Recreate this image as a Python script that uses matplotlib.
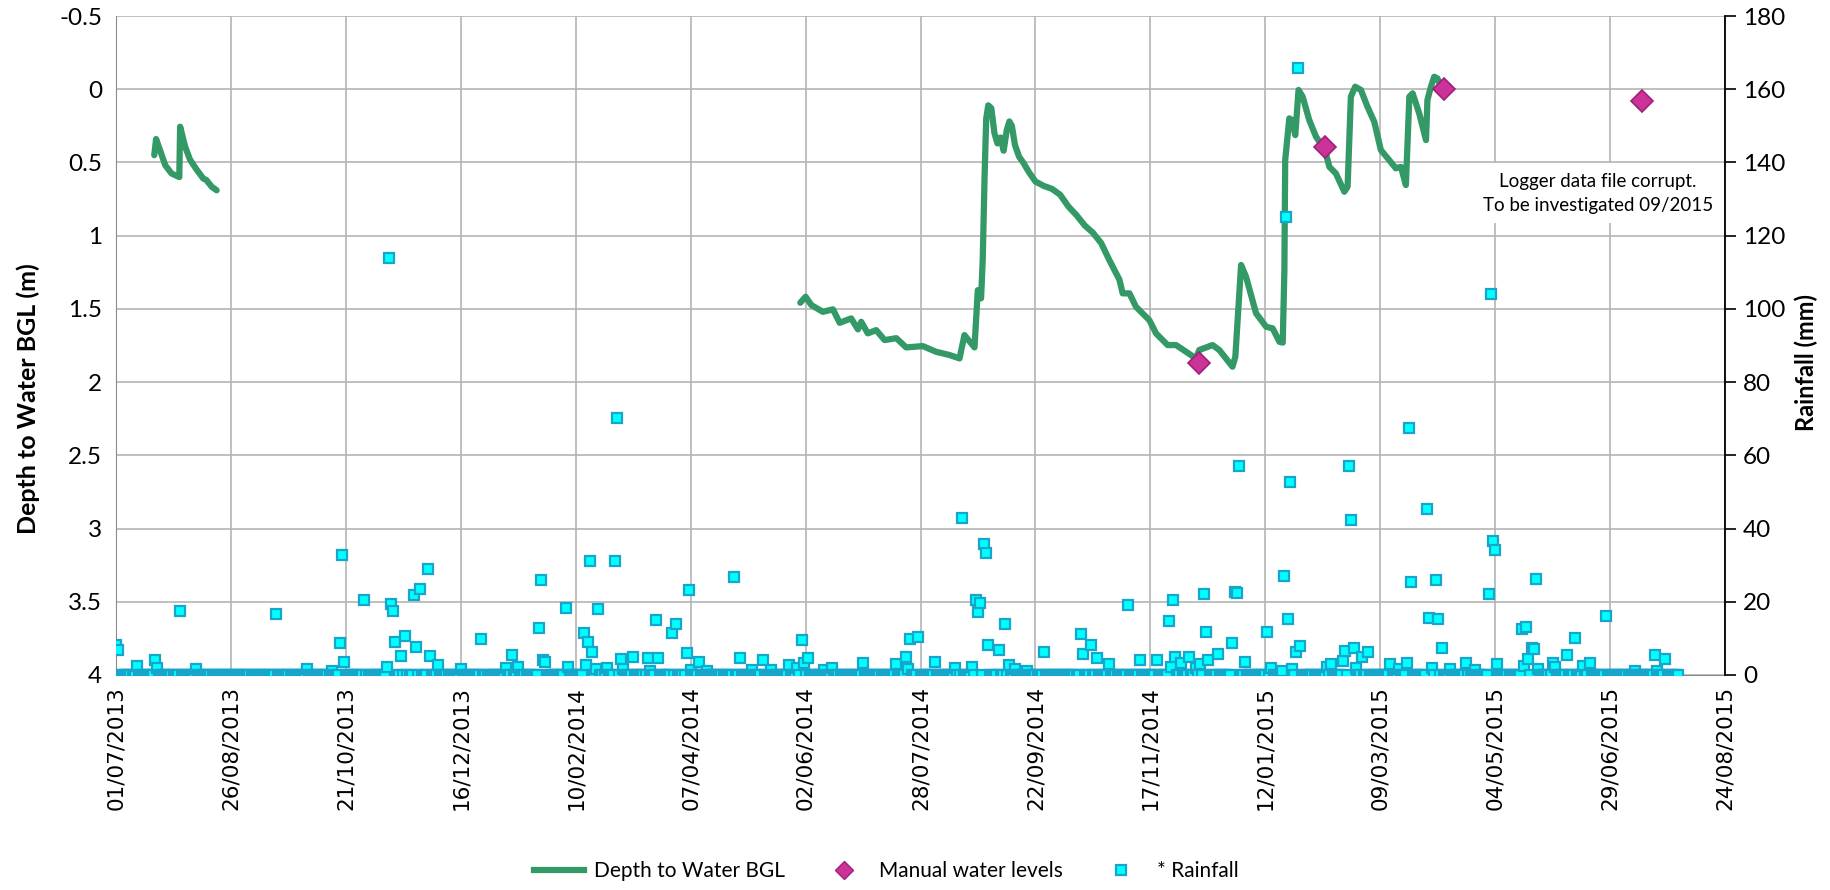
import matplotlib
matplotlib.use('Agg')
import matplotlib.pyplot as plt
from matplotlib.lines import Line2D
from matplotlib.ticker import FuncFormatter
import numpy as np
import pandas as pd

plt.rcParams['font.family'] = ['Lato', 'DejaVu Sans']

START = pd.Timestamp('2013-07-01')

# Logger depth to water (m below ground), days since START
logger1_day = [18.6, 19.5, 21.0, 24.0, 27.0, 30.8, 31.2, 33.6, 36.0, 39.3, 42.5, 44.0, 46.6, 49.0]
logger1_depth = [0.45, 0.34, 0.40, 0.52, 0.575, 0.60, 0.256, 0.39, 0.48, 0.55, 0.61, 0.62, 0.666, 0.69]

logger2_day = [333.4, 336.0, 338.8, 344.4, 349.3, 352.6, 358.2, 361.5, 363.1, 366.3, 370.4,
               374.5, 380.2, 385.0, 393.1, 399.6, 406.1, 411.0, 413.4, 418.3, 419.9, 421.5,
               422.3, 423.2, 424.0, 425.0, 426.5, 428.0, 429.5, 431.0, 432.5, 434.0, 435.3,
               436.5, 438.0, 440.0, 442.0, 445.0, 448.0, 452.0, 456.0, 460.0, 464.0, 468.0,
               472.0, 476.0, 480.0, 484.0, 488.9, 490.5, 493.8, 497.0, 503.5, 506.8, 512.4,
               516.5, 521.4, 526.2, 527.8, 534.3, 537.6, 544.0, 545.4, 548.2, 550.6, 555.5,
               560.4, 563.6, 566.9, 568.5, 569.3, 569.7, 571.7, 573.0, 574.6, 576.2, 578.2,
               581.4, 584.7, 589.1, 591.2, 594.4, 598.5, 600.1, 601.7, 603.8, 606.6, 609.8,
               613.1, 616.3, 620.4, 623.6, 626.1, 628.5, 630.2, 631.8, 635.0, 638.3, 639.0,
               640.7, 642.3, 643.9, 645.6]
logger2_depth = [1.458, 1.417, 1.474, 1.52, 1.503, 1.595, 1.565, 1.64, 1.588, 1.667, 1.645,
                 1.713, 1.70, 1.763, 1.754, 1.793, 1.815, 1.838, 1.679, 1.763, 1.372, 1.428,
                 1.167, 0.60, 0.20, 0.11, 0.13, 0.30, 0.37, 0.33, 0.42, 0.28, 0.22,
                 0.25, 0.38, 0.46, 0.50, 0.57, 0.63, 0.66, 0.68, 0.72, 0.80, 0.86,
                 0.93, 0.98, 1.05, 1.167, 1.30, 1.394, 1.394, 1.486, 1.577, 1.668, 1.747,
                 1.747, 1.793, 1.838, 1.781, 1.747, 1.781, 1.895, 1.827, 1.20, 1.28, 1.53,
                 1.622, 1.633, 1.725, 1.73, 1.235, 0.484, 0.199, 0.21, 0.313, 0.005, 0.051,
                 0.21, 0.324, 0.415, 0.53, 0.575, 0.70, 0.666, 0.051, -0.017, 0.005, 0.12,
                 0.222, 0.415, 0.484, 0.54, 0.53, 0.654, 0.051, 0.028, 0.165, 0.347, 0.074,
                 -0.017, -0.085, -0.074, -0.017]

# Manual dips
manual_day = [527.9, 589.1, 647.0, 743.4]
manual_depth = [1.867, 0.397, 0.0, 0.078]

# Daily rainfall (mm); days not listed recorded 0 mm
rain_day = [0, 1, 10, 19, 20, 31, 39, 78, 93, 105, 109, 110, 111, 121, 132, 133, 134, 135,
            136, 139, 141, 145, 146, 148, 152, 153, 157, 168, 178, 190, 193, 196, 206, 207,
            208, 209, 219, 220, 228, 229, 230, 231, 232, 234, 235, 239, 243, 244, 246, 247,
            252, 259, 260, 263, 264, 271, 273, 278, 279, 280, 284, 288, 301, 304, 310, 315,
            319, 328, 332, 334, 335, 337, 345, 349, 364, 380, 385, 386, 387, 391, 399, 409,
            412, 417, 419, 420, 421, 423, 424, 425, 430, 433, 435, 438, 444, 452, 470, 471,
            475, 478, 484, 493, 499, 507, 513, 514, 515, 516, 519, 523, 526, 528, 530, 531,
            532, 537, 544, 545, 546, 547, 550, 561, 563, 568, 569, 570, 571, 572, 573, 575,
            576, 577, 590, 592, 598, 599, 601, 602, 603, 604, 607, 610, 621, 625, 629, 630,
            631, 639, 640, 641, 643, 644, 646, 650, 658, 662, 669, 670, 671, 672, 673, 685,
            686, 687, 688, 690, 691, 692, 693, 700, 701, 707, 711, 715, 718, 726, 740, 750,
            751, 755]
rain_mm = [8.2, 6.8, 2.5, 4.1, 1.8, 17.4, 1.5, 16.6, 1.5, 1.2, 8.8, 32.9, 3.6, 20.6, 2.1, 114.0,
           19.5, 17.4, 9.0, 5.2, 10.6, 21.8, 7.7, 23.6, 29.0, 5.2, 2.8, 1.5, 9.9, 1.8, 5.4, 2.1,
           12.7, 25.9, 4.1, 3.5, 18.3, 2.3, 11.4, 2.8, 9.1, 31.1, 6.4, 1.5, 18.1, 1.9, 31.1,
           70.3, 4.4, 1.5, 4.9, 4.6, 1.2, 15.0, 4.7, 11.4, 13.8, 6.1, 23.1, 1.4, 3.6, 1.1, 26.8,
           4.6, 1.4, 4.0, 1.4, 2.6, 2.0, 9.6, 3.4, 4.6, 1.4, 1.9, 3.2, 2.9, 5.0, 1.5, 9.8, 10.5,
           3.6, 1.9, 43.0, 2.2, 20.4, 17.3, 19.6, 35.9, 33.4, 8.2, 6.8, 13.8, 2.7, 1.7, 1.2, 6.3,
           11.1, 5.6, 8.2, 4.6, 2.9, 19.2, 4.0, 4.0, 14.7, 2.1, 20.6, 5.0, 3.2, 5.0, 1.9, 3.0,
           22.0, 11.8, 4.1, 5.6, 8.6, 22.7, 22.3, 57.1, 3.5, 11.8, 1.8, 1.1, 27.0, 125.2, 15.4,
           52.7, 1.5, 6.4, 165.8, 8.0, 2.1, 2.9, 3.9, 6.5, 57.0, 42.2, 7.4, 2.0, 5.0, 6.2, 2.9,
           1.5, 3.3, 67.5, 25.3, 45.3, 15.6, 1.9, 25.9, 15.2, 7.4, 1.5, 3.2, 1.4, 22.0, 104.2,
           36.6, 34.2, 2.9, 12.6, 2.5, 13.0, 4.5, 7.3, 7.1, 26.1, 1.7, 3.2, 2.3, 5.4, 10.2, 2.5,
           3.4, 16.2, 1.1, 5.4, 1.2, 4.4]
rain_last_day = 761

tick_labels = ['01/07/2013', '26/08/2013', '21/10/2013', '16/12/2013', '10/02/2014',
               '07/04/2014', '02/06/2014', '28/07/2014', '22/09/2014', '17/11/2014',
               '12/01/2015', '09/03/2015', '04/05/2015', '29/06/2015', '24/08/2015']


def to_dates(days):
    return START + pd.to_timedelta(np.asarray(days, dtype=float), unit='D')


GREEN = '#339966'
MAGENTA = '#cc3399'
CYAN = '#00ffff'
CYAN_EDGE = '#18a5cc'
GRID = '#b4b4b4'

fig = plt.figure(figsize=(18.31, 8.90), dpi=100)
ax = fig.add_axes([0.0634, 0.2416, 0.8787, 0.7404])

# logger line, two separate deployments
ax.plot(to_dates(logger1_day), logger1_depth, color=GREEN, lw=4.5,
        solid_joinstyle='round', solid_capstyle='round', zorder=3)
ax.plot(to_dates(logger2_day), logger2_depth, color=GREEN, lw=4.5,
        solid_joinstyle='round', solid_capstyle='round', zorder=3)
ax.plot(to_dates(manual_day), manual_depth, ls='none', marker='D', ms=11,
        mfc=MAGENTA, mec='#a0207a', mew=1.2, zorder=4)

ax.set_ylim(4, -0.5)
ax.set_yticks(np.arange(-0.5, 4.01, 0.5))
ax.yaxis.set_major_formatter(FuncFormatter(lambda v, p: f'{v:g}'))
ax.set_ylabel('Depth to Water BGL (m)', fontsize=18, fontweight='bold')
ax.yaxis.set_label_coords(-0.047, 0.42)

tick_dates = pd.to_datetime(tick_labels, format='%d/%m/%Y')
ax.set_xlim(tick_dates[0], tick_dates[-1])
ax.set_xticks(tick_dates)
ax.set_xticklabels(tick_labels, rotation=90, fontsize=15.5, family='DejaVu Sans')
ax.tick_params(axis='both', length=0)
ax.tick_params(axis='x', pad=8)
ax.tick_params(axis='y', labelsize=17.5, pad=10)
ax.grid(True, color=GRID, lw=1.2)
ax.set_axisbelow(True)
for side in ['top', 'right']:
    ax.spines[side].set_visible(False)
ax.spines['left'].set_color('#8c8c8c')
ax.spines['bottom'].set_color('#8c8c8c')

# rainfall on the secondary axis
ax2 = ax.twinx()
all_days = np.arange(0, rain_last_day + 1)
all_rain = np.zeros(len(all_days))
all_rain[np.array(rain_day)] = rain_mm
ax2.plot(to_dates(all_days), all_rain, ls='none', marker='s', ms=7.5,
         mfc=CYAN, mec=CYAN_EDGE, mew=1.6, zorder=5)
ax2.set_ylim(0, 180)
ax2.set_yticks(np.arange(0, 181, 20))
ax2.tick_params(axis='y', labelsize=17.5, direction='out', length=8, width=1.2, pad=5)
ax2.set_ylabel('Rainfall (mm)', fontsize=17, fontweight='bold')
ax2.yaxis.set_label_coords(1.043, 0.474)
for side in ['top', 'left', 'bottom']:
    ax2.spines[side].set_visible(False)
ax2.spines['right'].set_color('black')
ax2.spines['right'].set_linewidth(1.3)

ax2.text(0.921, 0.731, 'Logger data file corrupt.\nTo be investigated 09/2015',
         transform=ax2.transAxes, ha='center', va='center', fontsize=13.5,
         linespacing=1.5, zorder=6,
         bbox=dict(boxstyle='square,pad=0.5', fc='white', ec='none'))

handles = [
    Line2D([], [], color=GREEN, lw=4.5),
    Line2D([], [], ls='none', marker='D', ms=9, mfc=MAGENTA, mec='#a0207a'),
    Line2D([], [], ls='none', marker='s', ms=7.5, mfc=CYAN, mec=CYAN_EDGE, mew=1.6),
]
fig.legend(handles, ['Depth to Water BGL', 'Manual water levels', '* Rainfall'],
           loc='center', bbox_to_anchor=(0.484, 0.021), ncol=3, frameon=False,
           fontsize=15, handlelength=2.4, columnspacing=1.6, handletextpad=0.5)

fig.savefig('out.png', dpi=100)
